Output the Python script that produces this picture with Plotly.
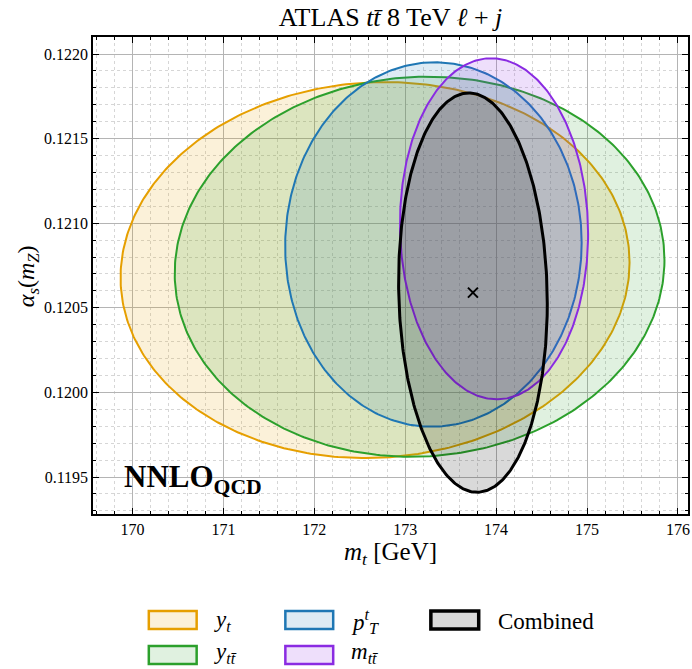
import numpy as np
import plotly.graph_objects as go

# Confidence ellipses in the (m_t, alpha_s(m_Z)) plane
labels = ["y_t", "y_ttbar", "pT_t", "m_ttbar", "Combined"]
legend_text = ["<i>y<sub>t</sub></i>", "<i>y<sub>tt̄</sub></i>",
               "<i>p</i><sup><i>t</i></sup><sub><i>T</i></sub>", "<i>m<sub>tt̄</sub></i>", "Combined"]
center_mt = [172.668, 173.158, 173.310, 173.977, 173.745]
center_as = [0.120723, 0.120743, 0.120874, 0.120967, 0.120590]
half_mt = [2.800, 2.694, 1.631, 1.035, 0.818]
half_as = [0.001111, 0.001123, 0.001077, 0.001008, 0.001180]
corr = [0.04, 0.035, 0.01, -0.03, -0.055]

colors = ["#E69F00", "#2CA02C", "#1F77B4", "#8A2BE2", "#000000"]
line_w = [2, 2, 2, 2, 3]

x_ticks = [170, 171, 172, 173, 174, 175, 176]
y_ticks = [0.1195, 0.1200, 0.1205, 0.1210, 0.1215, 0.1220]
x_range = [169.565, 176.111]
y_range = [0.1192815, 0.1221005]

FONT = "Liberation Serif"
W, H = 692, 669
L, R, T, B = 93, 690, 37, 514


def rgba(hex_color, a):
    h = hex_color.lstrip("#")
    r, g, b = int(h[0:2], 16), int(h[2:4], 16), int(h[4:6], 16)
    return f"rgba({r},{g},{b},{a})"


def ellipse(mx, my, sx, sy, rho, n=400):
    t = np.linspace(0, 2 * np.pi, n)
    x = mx + sx * np.cos(t)
    y = my + sy * (rho * np.cos(t) + np.sqrt(1 - rho ** 2) * np.sin(t))
    return x, y


fig = go.Figure()
for i, name in enumerate(labels):
    ex, ey = ellipse(center_mt[i], center_as[i], half_mt[i], half_as[i], corr[i])
    fig.add_trace(go.Scatter(
        x=ex, y=ey, mode="lines", fill="toself",
        fillcolor=rgba(colors[i], 0.15),
        line=dict(color=colors[i], width=line_w[i]),
        name=name, showlegend=False, hoverinfo="skip"))

# best-fit point of the combined measurement
fig.add_trace(go.Scatter(
    x=[center_mt[-1]], y=[center_as[-1]], mode="markers",
    marker=dict(symbol="x-thin", size=10, line=dict(color="black", width=2)),
    showlegend=False, hoverinfo="skip"))


def px(xp):
    return (xp - L) / (R - L)


def py(yp):
    return (B - yp) / (B - T)


# legend drawn as framed swatches with labels, three columns
swatch_cols = [(149, 197, 212), (286, 334, 350), (432, 480, 497)]
swatch_rows = [(611, 629), (646, 664)]
text_shift = [1, -2]
slots = {0: (0, 0), 1: (0, 1), 2: (1, 0), 3: (1, 1), 4: (2, 0)}
shapes = []
annotations = []
for i in range(len(labels)):
    c, r = slots[i]
    x0, x1, xt = swatch_cols[c]
    y0, y1 = swatch_rows[r]
    shapes.append(dict(type="rect", xref="paper", yref="paper",
                       x0=px(x0), x1=px(x1), y0=py(y1), y1=py(y0),
                       fillcolor=rgba(colors[i], 0.15),
                       line=dict(color=colors[i], width=line_w[i] + 0.5)))
    annotations.append(dict(xref="paper", yref="paper", x=px(xt),
                            y=py((y0 + y1) / 2 + text_shift[r]),
                            text=legend_text[i], showarrow=False, xanchor="left",
                            yanchor="middle", font=dict(family=FONT, size=23, color="black")))

annotations.append(dict(xref="paper", yref="paper", x=px(122), y=py(479),
                        text="<b>NNLO<sub>QCD</sub></b>", showarrow=False,
                        xanchor="left", yanchor="middle",
                        font=dict(family=FONT, size=31, color="black")))

# y-axis title placed as a rotated label centred on the axis
annotations.append(dict(xref="paper", yref="paper", x=px(28), y=py(276),
                        text="<i>α<sub>s</sub></i>(<i>m<sub>Z</sub></i>)", showarrow=False,
                        textangle=-90, xanchor="center", yanchor="middle",
                        font=dict(family=FONT, size=24, color="black")))

axis_common = dict(
    showline=True, linecolor="black", linewidth=1.5, mirror="allticks",
    ticks="inside", ticklen=6, tickwidth=1.2, tickcolor="black",
    showgrid=True, gridcolor="#b4b4b4", gridwidth=1, zeroline=False,
    tickfont=dict(family=FONT, size=16, color="black"),
)

fig.update_xaxes(
    range=x_range, tickvals=x_ticks, ticktext=[str(v) for v in x_ticks],
    minor=dict(ticks="inside", ticklen=3.5, tickcolor="black", dtick=0.2, tick0=170,
               showgrid=True, gridcolor="#d6d6d6", griddash="dot", gridwidth=1),
    title=dict(text="<i>m<sub>t</sub></i> [GeV]", font=dict(family=FONT, size=25, color="black"), standoff=4),
    **axis_common)
fig.update_yaxes(
    range=y_range, tickvals=y_ticks, ticktext=[f"{v:.4f}" for v in y_ticks],
    minor=dict(ticks="inside", ticklen=3.5, tickcolor="black", dtick=0.0001, tick0=0.1195,
               showgrid=True, gridcolor="#d6d6d6", griddash="dot", gridwidth=1),
    **axis_common)

fig.update_layout(
    width=W, height=H,
    margin=dict(l=L, r=W - R, t=T, b=H - B),
    paper_bgcolor="white", plot_bgcolor="white",
    title=dict(text="ATLAS <i>tt̄</i> 8 TeV <i>ℓ</i> + <i>j</i>", x=0.5, xref="paper",
               y=1 - 17 / H, yref="container", yanchor="middle",
               font=dict(family=FONT, size=26, color="black")),
    shapes=shapes, annotations=annotations, showlegend=False,
)

fig.write_html("out.html")
